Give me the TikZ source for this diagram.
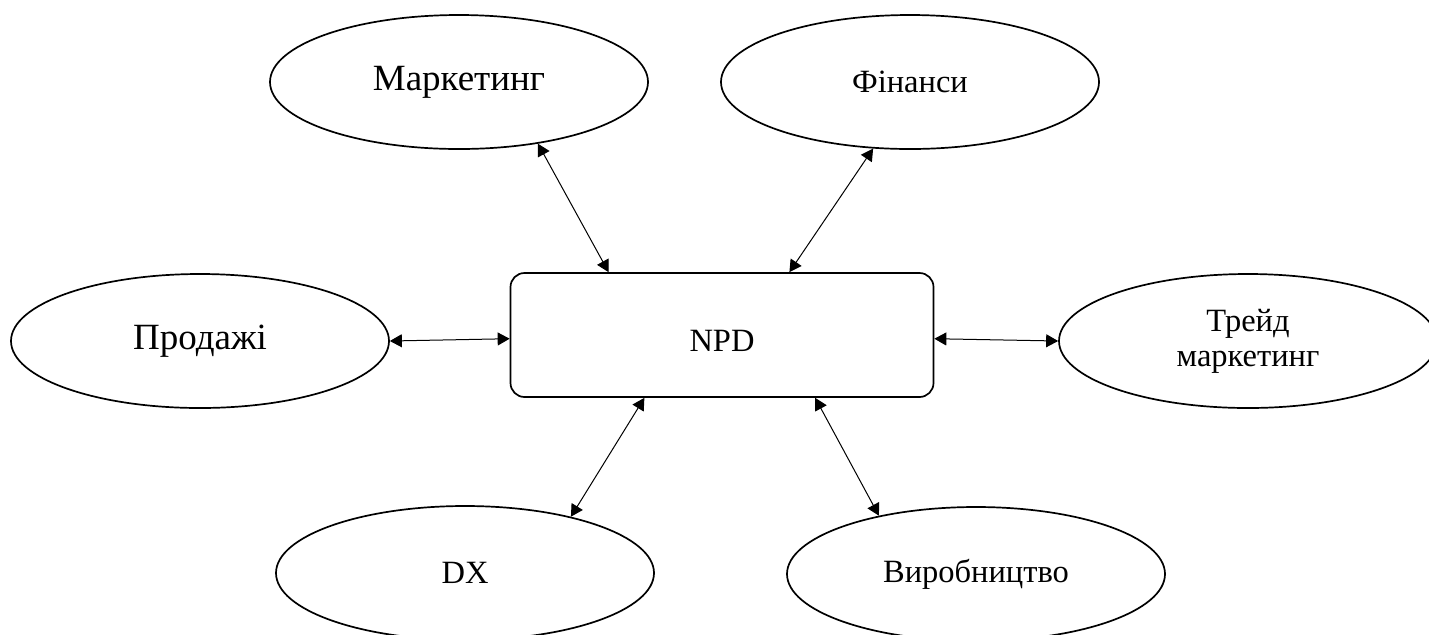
\documentclass[tikz,border=0pt]{standalone}
\usepackage{fontspec}
\setmainfont{Liberation Serif}
\usetikzlibrary{shapes.geometric, arrows.meta}

\begin{document}
\begin{tikzpicture}[x=0.5pt,y=-0.5pt,
  dept/.style={draw,line width=0.85pt,ellipse,minimum width=189pt,minimum height=67pt,inner sep=0pt,align=center},
  hub/.style={draw,line width=0.85pt,rounded corners=7pt,minimum width=211.5pt,minimum height=62pt,text height=16.7pt,text depth=0pt},
  big/.style={font=\fontsize{18.5}{21}\selectfont},
  small/.style={font=\fontsize{16.25}{17.5}\selectfont},
  link/.style={<->,line width=0.5pt,>={Triangle[length=6pt,width=6.5pt]}}]
\useasboundingbox (0,0) rectangle (1429,634);
% centre
\node[hub,small] (npd) at (722,335) {NPD};
% departments
\node[dept,big] (mkt) at (459,82) {Маркетинг};
\node[dept,small] (fin) at (910,82) {Фінанси};
\node[dept,big] (sales) at (200,341) {Продажі};
\node[dept,small] (trade) at (1248,341) {Трейд\\маркетинг};
\node[dept,small] (dx) at (465,573) {DX};
\node[dept,small] (prod) at (976,574) {Виробництво};
% links
\draw[link] (mkt.-38) -- (npd.151.7);
\draw[link] (fin.241) -- (npd.43.6);
\draw[link] (sales.east) -- (npd.181.6);
\draw[link] (npd.-1.6) -- (trade.west);
\draw[link] (npd.219.6) -- (dx.28);
\draw[link] (npd.-34.6) -- (prod.149);
\end{tikzpicture}
\end{document}
